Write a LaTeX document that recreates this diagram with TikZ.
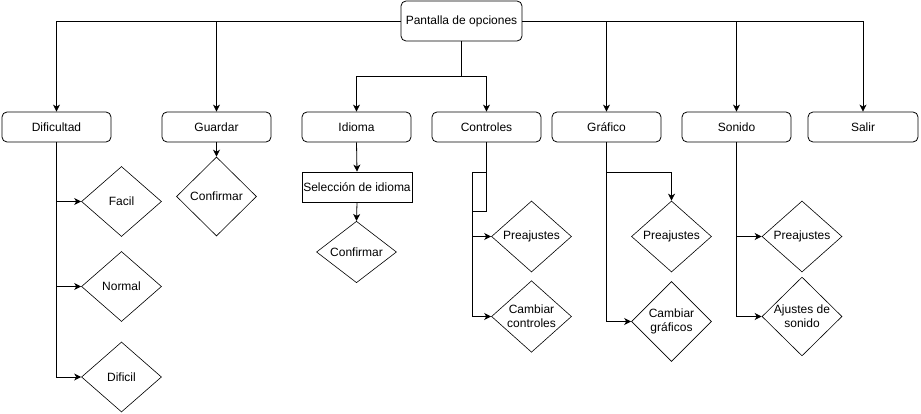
\documentclass[tikz,border=0pt]{standalone}
\usepackage{fontspec}
\setmainfont{Liberation Sans}
\usetikzlibrary{shapes.geometric,arrows.meta}
\begin{document}
\begin{tikzpicture}[x=1pt,y=-1pt,line width=0.8pt,
  font=\fontsize{12}{14}\selectfont,
  main node/.style={rectangle,draw,rounded corners=5pt,minimum width=109pt,minimum height=30pt,inner sep=0pt},
  plain node/.style={rectangle,draw,minimum width=110pt,minimum height=30pt,inner sep=0pt},
  choice node/.style={diamond,draw,line width=0.6pt,minimum width=80pt,minimum height=71pt,inner sep=0pt,align=center},
  arrow/.style={-{Stealth[length=7pt,width=7pt,inset=2pt]}}]

  \useasboundingbox (0,0) rectangle (921,414);

  \node[main node,minimum width=121pt,minimum height=40pt] (root) at (461.5,21) {Pantalla de opciones};

  \node[main node] (dif) at (56.5,127) {Dificultad};
  \node[main node] (gua) at (216.5,127) {Guardar};
  \node[main node] (idi) at (356.5,127) {Idioma};
  \node[main node] (ctl) at (486.5,127) {Controles};
  \node[main node] (gra) at (606.5,127) {Gráfico};
  \node[main node] (son) at (736.5,127) {Sonido};
  \node[main node,minimum width=110pt] (sal) at (863,127) {Salir};

  \node[choice node,minimum height=70pt] (facil) at (121.5,201.5) {Facil};
  \node[choice node,minimum height=70pt] (normal) at (121.5,286.5) {Normal};
  \node[choice node,minimum height=70pt] (dificil) at (121.5,377) {Dificil};

  \node[choice node,minimum height=79pt] (gconf) at (216.5,196.5) {Confirmar};

  \node[plain node] (sel) at (357,187) {Selección de idioma};
  \node[choice node,minimum height=60pt] (iconf) at (356.5,252) {Confirmar};

  \node[choice node] (cpre) at (531.5,236.5) {Preajustes};
  \node[choice node] (cctl) at (531.5,316.5) {Cambiar\\controles};

  \node[choice node] (gpre) at (671.5,236.5) {Preajustes};
  \node[choice node,minimum height=80pt] (gcam) at (671.5,321.5) {Cambiar\\gráficos};

  \node[choice node] (spre) at (802,236.5) {Preajustes};
  \node[choice node] (saj) at (802,316.5) {Ajustes de\\sonido};

  \coordinate (split) at (461.5,76);
  \coordinate (c1) at (472,172);
  \coordinate (c2) at (472,211);
  \coordinate (g1) at (606.5,172);

  % top level
  \draw[arrow] (root.west) -| (dif.north);
  \draw[arrow] (root.west) -| (gua.north);
  \draw[arrow] (root.east) -| (gra.north);
  \draw[arrow] (root.east) -| (son.north);
  \draw[arrow] (root.east) -| (sal.north);
  \draw (root.south) -- (split);
  \draw[arrow] (split) -| (idi.north);
  \draw[arrow] (split) -| (ctl.north);

  % Dificultad
  \draw[arrow] (dif.south) |- (facil.west);
  \draw[arrow] (dif.south) |- (normal.west);
  \draw[arrow] (dif.south) |- (dificil.west);

  \draw[arrow] (gua.south) -- (gconf.north);

  \draw[arrow] (idi.south) -- (sel.north);
  \draw[arrow] (sel.south) -- (iconf.north);

  % Controles
  \draw[arrow] (ctl.south) -- (ctl.south |- c1) -- (c1) |- (cpre.west);
  \draw[arrow] (ctl.south) -- (ctl.south |- c2) -- (c2) |- (cctl.west);

  % Grafico
  \draw[arrow] (gra.south) |- (gcam.west);
  \draw[arrow] (g1) -| (gpre.north);

  % Sonido
  \draw[arrow] (son.south) |- (spre.west);
  \draw[arrow] (son.south) |- (saj.west);

\end{tikzpicture}
\end{document}
